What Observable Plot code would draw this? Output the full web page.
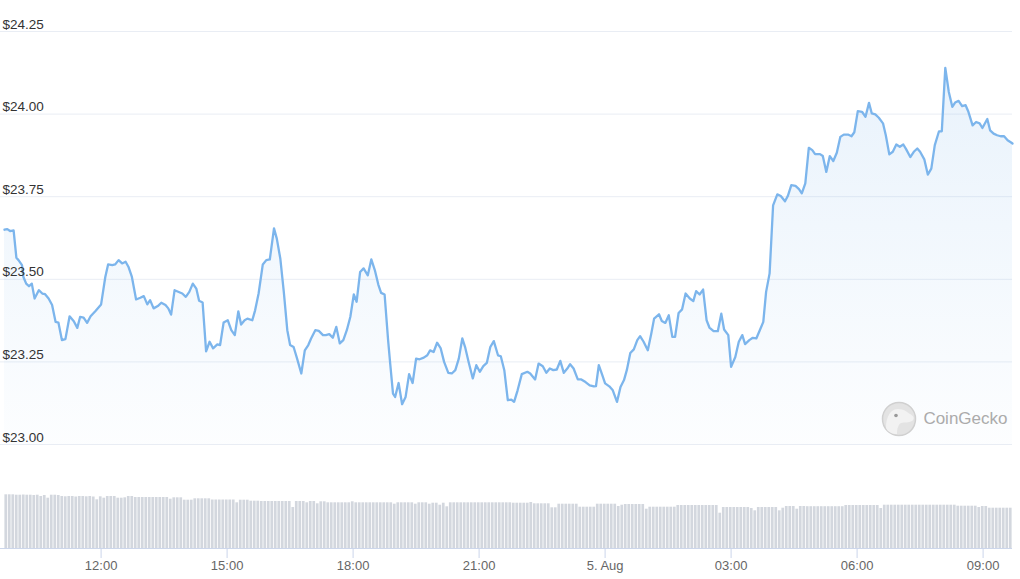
<!DOCTYPE html>
<html><head><meta charset="utf-8">
<script src="https://cdn.jsdelivr.net/npm/d3@7"></script>
<script src="https://cdn.jsdelivr.net/npm/@observablehq/plot@0.6"></script>
<style>
body{margin:0;background:#fff;}
#chart{position:relative;width:1020px;height:579px;font-family:"Liberation Sans",Arial,sans-serif;}
#chart svg{position:absolute;left:0;}
</style></head><body><div id="chart"></div>
<script>
// ---- data ----
const startTime = "2022-08-04T09:42:00Z";
const spanMinutes = 1440;
const minutesFromStart = [
0,4,8,13,17,20,25,27,31,35,
39,43,49,54,58,63,68,73,77,82,
87,93,99,104,108,113,118,123,130,138,
144,148,154,158,163,168,173,177,182,188,
194,199,204,208,213,219,224,230,234,238,
243,254,259,264,269,274,278,283,288,293,
298,304,308,313,319,324,329,334,338,343,
347,354,358,363,369,374,379,385,389,394,
399,404,408,413,418,424,429,434,438,444,
449,455,459,464,469,474,479,484,489,494,
499,503,508,513,519,524,529,534,538,543,
548,551,555,558,563,568,573,578,583,588,
593,599,604,608,613,618,623,628,634,639,
644,649,654,658,663,669,674,679,684,689,
694,699,705,709,714,719,724,728,733,739,
747,751,758,763,769,774,779,784,789,794,
799,804,808,813,819,824,830,836,842,845,
849,854,858,864,869,875,880,885,889,894,
899,904,908,913,919,924,928,935,939,944,
949,954,958,963,968,973,979,984,988,993,
998,1003,1007,1013,1019,1024,1028,1034,1038,1044,
1049,1054,1058,1064,1069,1074,1079,1084,1088,1093,
1098,1104,1109,1115,1119,1124,1130,1135,1139,1144,
1149,1154,1158,1165,1169,1174,1179,1184,1189,1194,
1199,1205,1210,1214,1219,1225,1230,1235,1239,1244,
1249,1255,1259,1264,1269,1274,1279,1284,1288,1294,
1299,1304,1308,1314,1319,1324,1329,1335,1339,1344,
1349,1354,1358,1363,1368,1373,1377,1383,1388,1393,
1397,1404,1408,1413,1418,1423,1428,1433,1438,1440
];
const prices = [
23.650,23.652,23.646,23.648,23.565,23.558,23.543,23.507,23.487,23.479,
23.487,23.442,23.467,23.457,23.455,23.442,23.422,23.371,23.369,23.316,
23.319,23.388,23.373,23.353,23.386,23.384,23.368,23.388,23.404,23.424,
23.507,23.545,23.543,23.545,23.558,23.548,23.553,23.538,23.507,23.439,
23.444,23.449,23.424,23.437,23.412,23.419,23.429,23.422,23.412,23.393,
23.467,23.457,23.447,23.462,23.487,23.472,23.435,23.430,23.282,23.311,
23.291,23.303,23.301,23.369,23.376,23.346,23.331,23.403,23.363,23.376,
23.381,23.376,23.406,23.457,23.545,23.558,23.560,23.654,23.623,23.563,
23.462,23.346,23.301,23.295,23.260,23.215,23.285,23.301,23.321,23.346,
23.344,23.331,23.331,23.334,23.323,23.356,23.306,23.316,23.346,23.386,
23.454,23.432,23.522,23.533,23.512,23.560,23.528,23.484,23.459,23.454,
23.316,23.245,23.154,23.144,23.186,23.122,23.144,23.213,23.186,23.260,
23.258,23.263,23.270,23.285,23.280,23.308,23.292,23.250,23.217,23.215,
23.225,23.260,23.321,23.295,23.250,23.200,23.240,23.220,23.237,23.247,
23.295,23.313,23.270,23.267,23.225,23.134,23.136,23.129,23.164,23.213,
23.220,23.215,23.197,23.245,23.237,23.217,23.230,23.225,23.227,23.253,
23.217,23.230,23.243,23.230,23.197,23.197,23.189,23.179,23.176,23.177,
23.240,23.210,23.185,23.176,23.164,23.129,23.174,23.195,23.225,23.277,
23.288,23.316,23.328,23.311,23.285,23.336,23.381,23.394,23.374,23.368,
23.391,23.326,23.326,23.398,23.409,23.457,23.442,23.434,23.464,23.454,
23.469,23.376,23.354,23.343,23.343,23.396,23.348,23.331,23.235,23.265,
23.311,23.331,23.304,23.316,23.323,23.321,23.346,23.371,23.462,23.518,
23.724,23.757,23.752,23.736,23.752,23.785,23.783,23.773,23.760,23.790,
23.898,23.891,23.879,23.879,23.873,23.825,23.873,23.858,23.883,23.931,
23.938,23.938,23.933,23.945,24.009,24.007,23.992,24.034,24.002,23.999,
23.989,23.972,23.936,23.878,23.886,23.908,23.901,23.908,23.894,23.870,
23.886,23.896,23.886,23.863,23.817,23.835,23.906,23.948,23.948,24.140,
24.067,24.022,24.035,24.040,24.024,24.027,24.007,23.966,23.976,23.972,
23.958,23.985,23.951,23.941,23.936,23.933,23.933,23.921,23.914,23.911
];
// relative volume, one bar every 5 minutes (12 per line = 1 hour)
const volumeIntervalMinutes = 5;
const volumes = [
53.7,53.7,53.7,53.3,53.3,53.5,53.3,53.3,53.0,53.3,52.0,53.0,
50.3,53.3,53.3,53.0,52.0,51.7,52.0,52.0,51.5,52.0,52.0,51.7,
52.0,51.5,48.7,51.7,50.3,52.0,52.0,52.0,50.3,50.3,50.7,52.0,
52.0,51.0,51.0,51.0,51.0,51.0,51.0,51.0,51.0,51.0,51.0,49.3,
50.7,50.7,50.7,48.3,48.3,48.3,49.7,49.7,49.7,49.7,49.7,48.5,
48.5,48.5,48.5,48.5,48.5,48.5,45.7,48.3,48.3,48.3,47.3,47.3,
47.3,47.0,47.0,47.0,47.0,47.0,47.0,47.0,47.0,47.0,41.0,47.0,
47.0,47.0,45.7,47.0,47.0,44.7,46.7,46.7,45.7,45.7,45.7,45.7,
45.7,45.7,45.7,46.7,45.7,45.7,45.7,45.7,45.7,45.7,45.7,45.7,
45.7,45.7,45.7,44.3,45.7,45.7,45.7,45.7,45.7,44.3,45.7,45.7,
45.7,44.3,45.3,45.3,43.3,45.3,41.7,45.7,45.7,45.7,45.7,45.7,
45.7,45.7,45.7,45.7,45.7,45.7,45.7,45.7,45.7,45.7,45.7,45.7,
45.7,45.3,45.3,45.3,45.3,45.3,46.0,44.7,44.7,44.7,44.7,44.7,
40.7,40.7,44.3,44.3,44.3,44.3,44.3,44.3,41.3,41.3,41.3,41.3,
41.3,44.3,44.3,44.3,44.3,44.3,44.3,42.0,43.3,44.0,44.0,44.0,
44.0,44.0,44.0,39.3,41.3,41.3,41.3,41.3,41.3,41.3,41.3,41.3,
43.0,43.0,43.0,43.0,43.0,43.0,43.0,43.0,43.0,43.0,43.0,43.0,
35.3,41.0,41.0,41.0,41.0,41.0,41.0,41.0,41.0,40.0,37.7,41.0,
41.0,41.0,41.0,41.0,41.0,37.7,40.3,42.0,42.0,42.0,39.3,42.0,
42.0,41.8,41.8,41.8,41.8,41.8,41.8,41.8,41.8,41.8,41.8,41.8,
43.0,43.0,43.0,43.0,43.0,43.0,43.0,43.0,43.0,43.0,40.0,43.3,
43.3,43.3,43.3,43.3,43.3,43.3,43.3,43.3,43.3,43.3,43.3,43.3,
43.3,43.3,43.3,43.3,43.3,43.3,43.3,43.3,42.3,42.3,42.3,42.3,
42.3,42.3,41.0,42.0,42.0,40.3,40.3,40.3,40.3,40.3,40.3,40.3
];
const yTicks = [23.00, 23.25, 23.50, 23.75, 24.00, 24.25];
const xTickTimes = ["2022-08-04T12:00:00Z","2022-08-04T15:00:00Z","2022-08-04T18:00:00Z","2022-08-04T21:00:00Z",
                    "2022-08-05T00:00:00Z","2022-08-05T03:00:00Z","2022-08-05T06:00:00Z","2022-08-05T09:00:00Z"];
const xTickLabels = ["12:00","15:00","18:00","21:00","5. Aug","03:00","06:00","09:00"];
const watermarkText = ["CoinGecko"];

// ---- build tables ----
const MIN = 60000;
const t0 = new Date(startTime).getTime();
const xDomain = [new Date(t0), new Date(t0 + spanMinutes * MIN)];
const priceData = prices.map((p, i) => ({time: new Date(t0 + minutesFromStart[i] * MIN), price: p}));
const volumeData = volumes.map((v, i) => ({
  start: new Date(t0 + i * volumeIntervalMinutes * MIN),
  end: new Date(t0 + (i + 1) * volumeIntervalMinutes * MIN),
  volume: v
}));
const xTicks = xTickTimes.map(s => new Date(s));
const FONT = '"Liberation Sans", Arial, Helvetica, sans-serif';

const gradientDefs = () => {
  const defs = d3.create("svg:defs");
  const g = defs.append("linearGradient").attr("id", "priceFill")
    .attr("x1", 0).attr("y1", 0).attr("x2", 0).attr("y2", 1);
  g.append("stop").attr("offset", "0%").attr("stop-color", "#7cb5ec").attr("stop-opacity", 0.17);
  g.append("stop").attr("offset", "100%").attr("stop-color", "#7cb5ec").attr("stop-opacity", 0.02);
  return defs.node();
};

const geckoLogo = (index, scales, values, dim) => {
  const cx = dim.width - dim.marginRight - 113;
  const cy = dim.height - dim.marginBottom - 25;
  const g = d3.create("svg:g").attr("transform", `translate(${cx},${cy})`);
  g.append("circle").attr("r", 16.5).attr("fill", "#e3e3e3").attr("stroke", "#d0d0d0").attr("stroke-width", 1.5);
  g.append("path")
    .attr("d", "M-13,9 C-13,-3 -8,-10 -1,-10 C5,-10 8,-7 11,-5 C15,-3 16,0 13,2 C10,4 5,3 2,4 C-1,6 -2,10 -2,15 C-7,15 -11,13 -13,9 Z")
    .attr("fill", "#f2f2f2");
  g.append("circle").attr("cx", -3).attr("cy", -3.5).attr("r", 1.8).attr("fill", "#999999");
  return g.node();
};

const pricePlot = Plot.plot({
  width: 1020, height: 450,
  marginLeft: 4, marginRight: 8, marginTop: 31, marginBottom: 6,
  x: {type: "utc", domain: xDomain, axis: null},
  y: {domain: [23, 24.25], axis: null},
  style: {fontFamily: FONT, background: "transparent"},
  marks: [
    gradientDefs,
    Plot.ruleY(yTicks, {stroke: "#e9edf4", insetLeft: -4}),
    Plot.areaY(priceData, {x: "time", y1: () => 23, y2: "price", fill: "url(#priceFill)"}),
    Plot.lineY(priceData, {x: "time", y: "price", stroke: "#7cb5ec", strokeWidth: 2.3, curve: "linear"}),
    Plot.text(yTicks, {y: d => d, text: d => "$" + d.toFixed(2), frameAnchor: "left", textAnchor: "start",
      lineAnchor: "bottom", dx: -2, dy: -3, fill: "#333333", fontSize: 13.5}),
    geckoLogo,
    Plot.text(watermarkText, {text: d => d, frameAnchor: "bottom-right", textAnchor: "end", lineAnchor: "bottom",
      dx: -5, dy: -20.5, fill: "#ababab", fontSize: 17})
  ]
});
pricePlot.style.top = "0px";

const volumePlot = Plot.plot({
  width: 1020, height: 109,
  marginLeft: 4, marginRight: 8, marginTop: 18, marginBottom: 31,
  x: {type: "utc", domain: xDomain, axis: null},
  y: {domain: [0, 60], axis: null},
  style: {fontFamily: FONT, background: "transparent"},
  marks: [
    Plot.rectY(volumeData, {x1: "start", x2: "end", y: "volume", fill: "#d3d7de", insetLeft: 0.4, insetRight: 0.4}),
    Plot.ruleY([0], {stroke: "#ccd6eb", insetLeft: -4}),
    Plot.ruleX(xTicks, {x: d => d, y1: 0, y2: -10, stroke: "#ccd6eb"}),
    Plot.text(xTicks, {x: d => d, text: (d, i) => xTickLabels[i], frameAnchor: "bottom", lineAnchor: "middle",
      dy: 17, fill: "#666666", fontSize: 13})
  ]
});
volumePlot.style.top = "470px";

const chart = document.getElementById("chart");
chart.appendChild(pricePlot);
chart.appendChild(volumePlot);
</script>
</body></html>
